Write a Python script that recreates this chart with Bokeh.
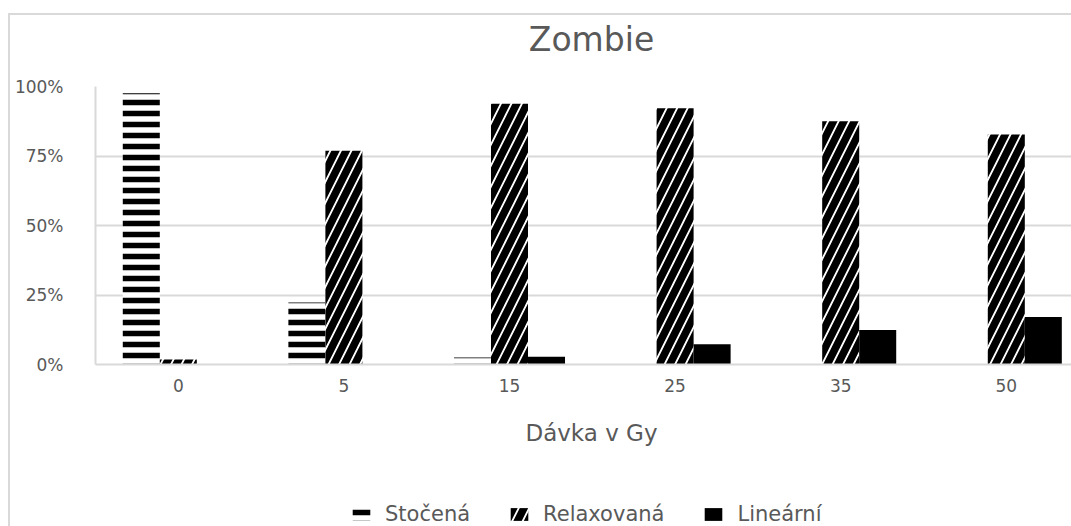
from bokeh.plotting import figure
from bokeh.layouts import column
from bokeh.models import (Range1d, FixedTicker, NumeralTickFormatter, Legend,
                          LegendItem, ColumnDataSource, Label)
from bokeh.embed import file_html
from bokeh.resources import INLINE

categories = ["0", "5", "15", "25", "35", "50"]
stocena = [0.976, 0.223, 0.025, 0.0, 0.0, 0.0]
relaxovana = [0.018, 0.769, 0.938, 0.922, 0.875, 0.827]
linearni = [0.0, 0.0, 0.028, 0.073, 0.124, 0.171]
y_ticks = [0, 0.25, 0.5, 0.75, 1.0]
series_names = ["Stočená", "Relaxovaná", "Lineární"]
chart_title = "Zombie"
x_title = "Dávka v Gy"

FONT = "DejaVu Sans"
GRAY_TXT = "#595959"
GRID = "#d9d9d9"
W = 1071
LEFT = 95          # left edge of the plotting area (frames are aligned in the column)
CAT_PX = 165.6     # width of one category slot in pixels

STYLE_S = dict(fill_color="white", line_color=None, hatch_pattern="horizontal_line",
               hatch_color="black", hatch_scale=11, hatch_weight=5.5)
STYLE_R = dict(fill_color="white", line_color=None, hatch_pattern="right_diagonal_line",
               hatch_color="black", hatch_scale=21, hatch_weight=7.5)
STYLE_L = dict(fill_color="black", line_color=None)


def blank_fig(h):
    f = figure(width=W, height=h, output_backend="svg", toolbar_location=None,
               x_range=Range1d(LEFT, W), y_range=Range1d(0, h),
               x_axis_location=None, y_axis_location=None, title=None,
               min_border=0)
    f.outline_line_color = None
    f.background_fill_color = None
    f.border_fill_color = None
    f.grid.visible = False
    return f


# ---------- title strip ----------
top = blank_fig(74)
top.add_layout(Label(x=591, y=35, text=chart_title, text_font=FONT,
                     text_font_size="33px", text_color=GRAY_TXT,
                     text_align="center", text_baseline="middle"))

# ---------- main chart ----------
centers = [i + 0.5 for i in range(len(categories))]
bw = 0.2235
src = ColumnDataSource(dict(
    x0=[c - bw for c in centers], x1=centers, x2=[c + bw for c in centers],
    s=stocena, r=relaxovana, l=linearni,
))

p = figure(width=W, height=330, output_backend="svg", toolbar_location=None,
           x_range=Range1d(0, (W - LEFT) / CAT_PX), y_range=Range1d(0, 1.0), title=None,
           min_border_left=LEFT, min_border_right=0, min_border_top=12,
           min_border_bottom=40)
p.outline_line_color = None
p.background_fill_color = None
p.border_fill_color = None

p.vbar(x="x0", top="s", width=bw, source=src, **STYLE_S)
p.vbar(x="x1", top="r", width=bw, source=src, **STYLE_R)
p.vbar(x="x2", top="l", width=bw, source=src, **STYLE_L)

p.xaxis.ticker = FixedTicker(ticks=centers)
p.xaxis.major_label_overrides = {c: lab for c, lab in zip(centers, categories)}
p.yaxis.ticker = FixedTicker(ticks=y_ticks)
p.yaxis.formatter = NumeralTickFormatter(format="0%")
for ax in (p.xaxis, p.yaxis):
    ax.major_tick_line_color = None
    ax.major_tick_out = 0
    ax.major_tick_in = 0
    ax.minor_tick_line_color = None
    ax.axis_line_color = GRID
    ax.axis_line_width = 2
    ax.major_label_text_font = FONT
    ax.major_label_text_color = GRAY_TXT
p.xaxis.major_label_standoff = 14
p.xaxis.major_label_text_font_size = "17px"
p.yaxis.major_label_standoff = 32
p.yaxis.major_label_text_font_size = "17px"

p.xgrid.grid_line_color = None
p.ygrid.grid_line_color = GRID
p.ygrid.grid_line_width = 2

# ---------- axis title + legend strip ----------
bot = blank_fig(122)
bot.add_layout(Label(x=591, y=94, text=x_title, text_font=FONT,
                     text_font_size="23px", text_color=GRAY_TXT,
                     text_align="center", text_baseline="middle"))
# legend proxies (single zero-height entry outside the visible range)
proxy = ColumnDataSource(dict(x=[0], top=[0]))
g1 = bot.vbar(x="x", top="top", width=1, source=proxy, **STYLE_S)
g2 = bot.vbar(x="x", top="top", width=1, source=proxy, **STYLE_R)
g3 = bot.vbar(x="x", top="top", width=1, source=proxy, **STYLE_L)
legend = Legend(items=[LegendItem(label=series_names[0], renderers=[g1]),
                       LegendItem(label=series_names[1], renderers=[g2]),
                       LegendItem(label=series_names[2], renderers=[g3])],
                orientation="horizontal", location=(255, 0),
                glyph_width=22, glyph_height=16, label_standoff=13, spacing=38,
                padding=0, margin=0, border_line_color=None,
                background_fill_alpha=0,
                label_text_font=FONT, label_text_font_size="21px",
                label_text_color=GRAY_TXT)
bot.add_layout(legend, "center")

layout = column(top, p, bot, spacing=0, styles={
    "background-image": "linear-gradient(#d9d9d9,#d9d9d9), linear-gradient(#d9d9d9,#d9d9d9)",
    "background-repeat": "no-repeat",
    "background-position": "8px 13px, 8px 13px",
    "background-size": "2px 700px, 1400px 2px",
})

open("out.html", "w").write(file_html(layout, INLINE))
